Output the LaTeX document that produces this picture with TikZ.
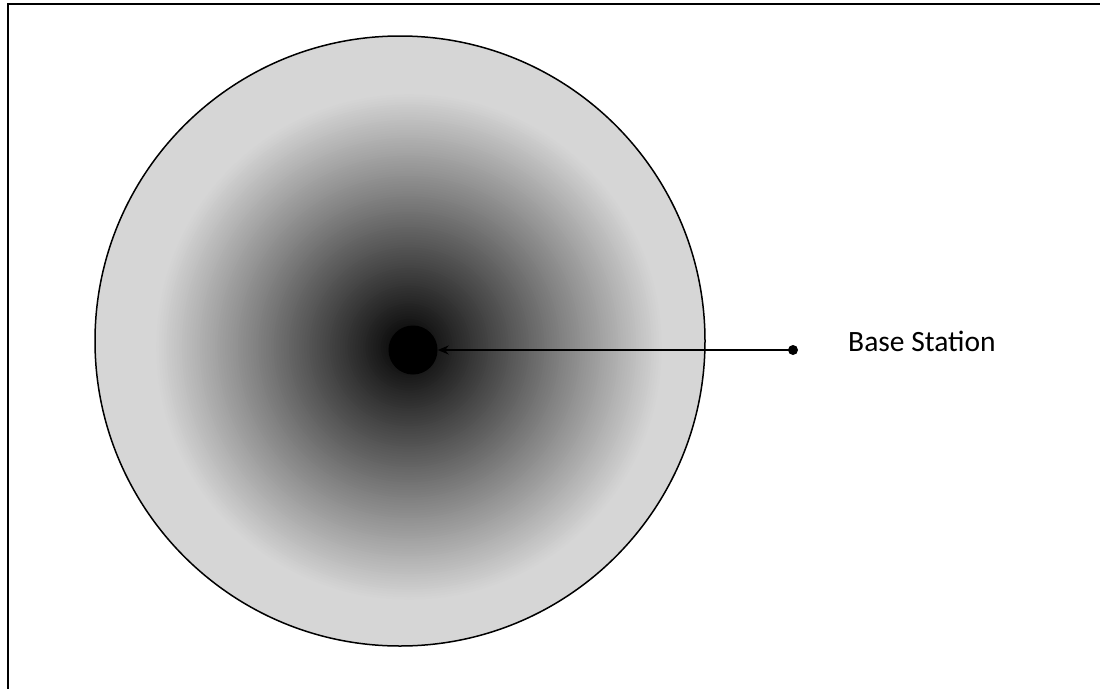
\documentclass[tikz,border=0pt]{standalone}
\usepackage{fontspec}
\setmainfont{Carlito}
\usetikzlibrary{arrows.meta}
\definecolor{cellgray}{HTML}{D6D6D6}
\tikzset{
  frameline/.style={line width=2.5pt},
  cellline/.style={line width=1.5pt},
  conn/.style={line width=1.5pt, -{Stealth[length=11pt,width=9pt]}},
}
\begin{document}
\begin{tikzpicture}[x=1pt,y=-1pt]
\useasboundingbox (0,0) rectangle (1100,688);
% frame (only left and top edges visible)
\draw[frameline] (8,690) -- (8,4) -- (1102,4);
% cell with radial gradient
\fill[cellgray] (400,341) circle (305);
\begin{scope}
  \clip (400,341) circle (305);
  \foreach \i in {0,...,100} {
    \pgfmathsetmacro{\rr}{255*(1-\i/100)+0.1}
    \pgfmathsetmacro{\pp}{100-\i}
    \fill[cellgray!\pp!black] (409,347) circle (\rr);
  }
\end{scope}
\draw[cellline] (400,341) circle (305);
% base station
\node[circle, fill=black, minimum size=49pt, inner sep=0pt] (bs) at (413,350) {};
\coordinate (dot) at (793,350);
\fill (dot) circle (5);
\draw[conn] (dot) -- (bs.east);
\node[anchor=base west, font=\fontsize{29.5}{34}\selectfont, inner sep=0pt] (label) at (848,351) {Base Station};
\end{tikzpicture}
\end{document}
